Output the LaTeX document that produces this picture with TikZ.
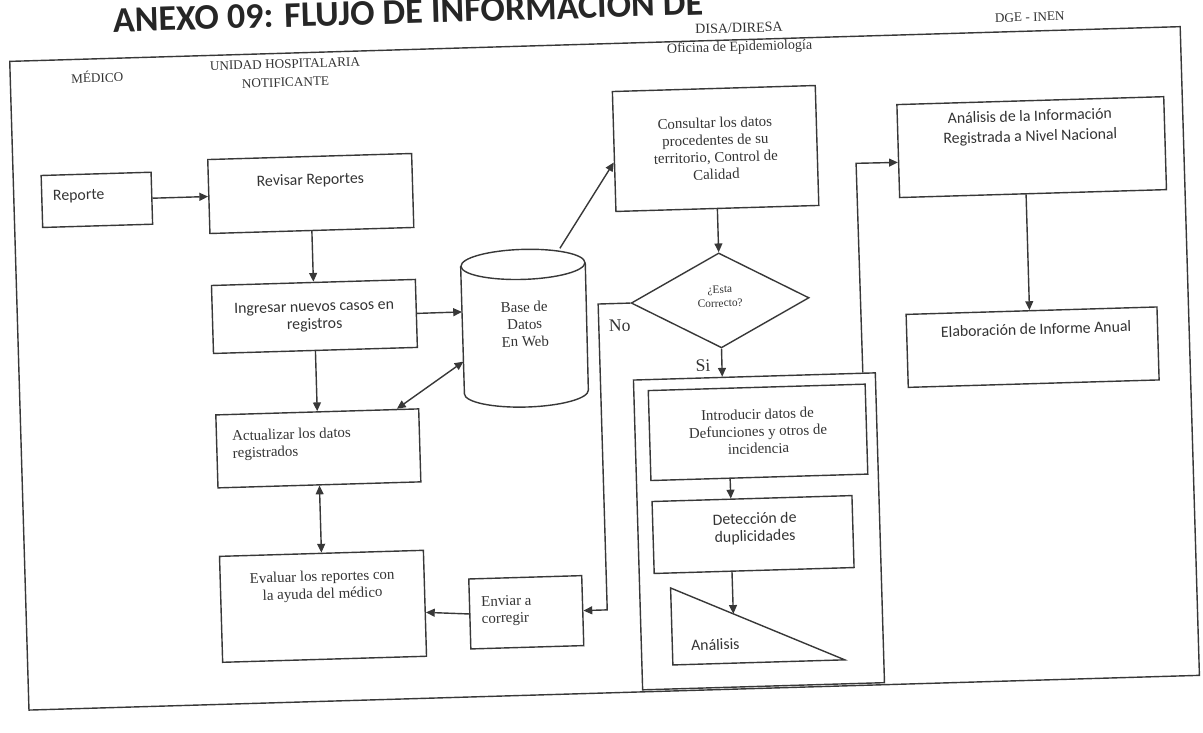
\documentclass[tikz,border=0pt]{standalone}
\usepackage{fontspec}
\setmainfont{Liberation Serif}
\newfontfamily\calfam{Carlito}
\usetikzlibrary{arrows.meta,calc,shapes.geometric}
\definecolor{ln}{gray}{0.22}
\definecolor{tx}{gray}{0.2}
\begin{document}
\begin{tikzpicture}[x=0.02cm,y=-0.02cm,
  lns/.style={draw=ln,line width=0.8pt},
  box/.style={lns,inner sep=0pt},
  arr/.style={lns,-{Triangle[length=5pt,width=4.5pt]}},
  dbl/.style={lns,{Triangle[length=5pt,width=4.5pt]}-{Triangle[length=5pt,width=4.5pt]}},
  st/.style={font=\fontsize{8.5}{9.8}\selectfont,text=tx,align=center,inner sep=0pt},
  ss/.style={font=\calfam\fontsize{9}{10}\selectfont,text=tx,align=center,inner sep=0pt},
  hd/.style={font=\fontsize{7.5}{10.5}\selectfont,text=tx,align=center,inner sep=0pt}]
\useasboundingbox (0,0) rectangle (1203,733);
\clip (0,0) rectangle (1203,733);
\begin{scope}[rotate around={1.7:(600,366)},transform shape]
% title and frame
\node[font=\calfam\bfseries\fontsize{20.5}{24}\selectfont,text=black!85,anchor=base west,inner sep=0pt] (title) at (123,18) {ANEXO 09: FLUJO DE INFORMACIÓN DE};
\draw[lns] (19,44) rectangle (1190,693);
% headers
\node[hd] (hmed) at (106,62) {MÉDICO};
\node[hd] (hund) at (294,64) {UNIDAD HOSPITALARIA\\NOTIFICANTE};
\node[hd,font=\fontsize{8}{10.5}\selectfont] (hdis) at (749,43) {DISA/DIRESA\\Oficina de Epidemiología};
\node[hd] (hdge) at (1040,30) {DGE - INEN};
% left column
\node[box,minimum width=2.2cm,minimum height=1.04cm] (rep) at (102,185) {};
\node[ss,anchor=west] (rept) at (58,181) {Reporte};
\node[box,minimum width=4.08cm,minimum height=1.48cm] (rev) at (316,185) {};
\node[ss] (revt) at (316,172) {Revisar Reportes};
\node[box,minimum width=4.08cm,minimum height=1.36cm] (ing) at (316,308) {};
\node[ss] (ingt) at (316,308) {Ingresar nuevos casos en\\registros};
\node[box,minimum width=4.06cm,minimum height=1.46cm] (act) at (316,440) {};
\node[st,anchor=west,align=left] (actt) at (230,435) {Actualizar los datos\\registrados};
\node[box,minimum width=4.08cm,minimum height=2.12cm] (eva) at (316,598) {};
\node[st] (evat) at (316,578) {Evaluar los reportes con\\la ayuda del médico};
\node[box,minimum width=2.26cm,minimum height=1.4cm] (env) at (519,610) {};
\node[st,anchor=west,align=left] (envt) at (474,608) {Enviar a\\corregir};
% database cylinder
\node[minimum width=2.48cm,minimum height=3.14cm,inner sep=0pt] (db) at (526,326) {};
\draw[lns] ($(db.north)!0.3cm!(db.south)$) ellipse [x radius=1.24cm,y radius=0.3cm];
\draw[lns] ($(db.north west)!0.3cm!(db.south west)$) -- ($(db.south west)!0.3cm!(db.north west)$)
  arc[start angle=180,end angle=360,x radius=1.24cm,y radius=0.3cm]
  -- ($(db.north east)!0.3cm!(db.south east)$);
\node[st] (dbt) at (526,322) {Base de\\Datos\\En Web};
% DISA column
\node[box,minimum width=4.06cm,minimum height=2.4cm] (con) at (722,152) {};
\node[st] (cnt) at (722,152) {Consultar los datos\\procedentes de su\\territorio, Control de\\Calidad};
\node[box,diamond,minimum width=3.56cm,minimum height=1.9cm] (dia) at (722,304) {};
\node[st,font=\fontsize{6.5}{8}\selectfont] (diat) at (722,300) {¿Esta\\Correcto?};
\node[font=\fontsize{10}{12}\selectfont,text=tx,inner sep=0pt] (no) at (621,326) {No};
\node[font=\fontsize{10}{12}\selectfont,text=tx,inner sep=0pt] (si) at (703,369) {Si};
\node[box,minimum width=4.84cm,minimum height=6.2cm] (grp) at (754,536) {};
\node[box,minimum width=4.34cm,minimum height=1.8cm] (intro) at (756,437) {};
\node[st] (introt) at (756,436) {Introducir datos de\\Defunciones y otros de\\incidencia};
\node[box,minimum width=4cm,minimum height=1.44cm] (det) at (748,539) {};
\node[ss] (dett) at (750,533) {Detección de\\duplicidades};
\coordinate (tA) at (664,590);
\coordinate (tB) at (664,667);
\coordinate (tC) at (836,667);
\draw[lns] (tA) -- (tB) -- (tC) -- cycle;
\node[ss] (trit) at (707,648) {Análisis};
% DGE column
\node[box,minimum width=5.34cm,minimum height=1.86cm] (ana) at (1038,160) {};
\node[ss,font=\calfam\fontsize{9}{11.5}\selectfont] (anat) at (1037,140) {Análisis de la Información\\Registrada a Nivel Nacional};
\node[box,minimum width=5.02cm,minimum height=1.46cm] (ela) at (1033,360) {};
\node[ss] (elat) at (1037,342) {Elaboración de Informe Anual};
% connectors
\draw[arr] (rep.east) -- (rev.west);
\draw[arr] (rev.south) -- (ing.north);
\draw[arr] (ing.south) -- (act.north);
\draw[arr] (ing.east) -- ($(db.north west)!0.385!(db.south west)$);
\draw[dbl] ($(act.north west)!0.89!(act.north east)$) -- ($(db.north west)!0.70!(db.south west)$);
\draw[dbl] (act.south) -- (eva.north);
\draw[arr] (env.west) -- ($(eva.north east)!0.585!(eva.south east)$);
\draw[arr] ($(db.north west)!0.8!(db.north east)$) -- ($(con.north west)!0.59!(con.south west)$);
\draw[arr] (con.south) -- (dia.north);
\draw[arr] (dia.south) -- ($(grp.north west)!0.368!(grp.north east)$);
\coordinate (nob1) at (600,304);
\coordinate (nob2) at (600,610);
\draw[arr] (dia.west) -- (nob1) -- (nob2) -- (env.east);
\draw[arr] ($(intro.south west)!0.366!(intro.south east)$) -- ($(det.north west)!0.395!(det.north east)$);
\draw[arr] ($(det.south west)!0.39!(det.south east)$) -- ($(tA)!0.36!(tC)$);
\coordinate (anb) at (862,171);
\draw[arr] ($(grp.north west)!0.946!(grp.north east)$) -- (anb) -- ($(ana.north west)!0.62!(ana.south west)$);
\draw[arr] ($(ana.south west)!0.474!(ana.south east)$) -- ($(ela.north west)!0.492!(ela.north east)$);
\end{scope}
\end{tikzpicture}
\end{document}
